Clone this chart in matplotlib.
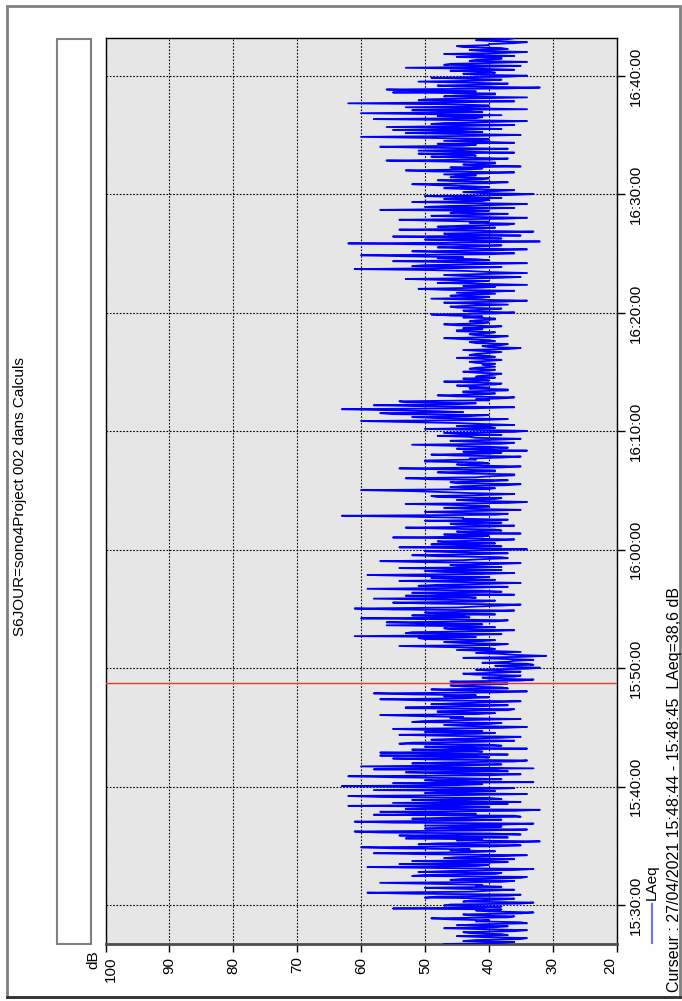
import numpy as np
import matplotlib
matplotlib.use('Agg')
import matplotlib.pyplot as plt
from matplotlib.patches import Rectangle
from matplotlib.lines import Line2D
from matplotlib.transforms import ScaledTranslation

plt.rcParams['font.family'] = ['Liberation Sans', 'DejaVu Sans']

# LAeq (dB), one row per minute, readings 5 s apart, starting 15:26:42
laeq_rows = [
    [47, 38, 36, 44, 42, 35, 34, 41, 45, 37, 38, 43],
    [44, 36, 34, 41, 47, 39, 37, 45, 41, 34, 35, 42],
    [40, 46, 49, 37, 36, 43, 44, 35, 33, 40, 42, 38],
    [55, 41, 38, 47, 46, 35, 33, 44, 43, 38, 36, 50],
    [48, 37, 35, 52, 59, 43, 40, 36, 45, 50, 38, 42],
    [41, 49, 57, 38, 36, 46, 44, 35, 34, 52, 50, 39],
    [38, 51, 46, 36, 33, 48, 59, 42, 40, 54, 44, 37],
    [52, 40, 36, 47, 45, 38, 34, 50, 58, 43, 39, 46],
    [43, 55, 60, 39, 35, 51, 48, 36, 32, 45, 41, 53],
    [37, 49, 54, 35, 40, 57, 61, 42, 34, 50, 45, 38],
    [50, 38, 33, 55, 61, 44, 38, 52, 46, 35, 36, 58],
    [42, 50, 57, 36, 32, 53, 48, 40, 62, 45, 37, 55],
    [35, 46, 52, 38, 40, 57, 62, 43, 34, 50, 47, 39],
    [58, 41, 36, 52, 63, 45, 41, 55, 33, 48, 50, 38],
    [44, 55, 62, 40, 35, 48, 53, 37, 39, 58, 33, 46],
    [60, 44, 38, 52, 47, 36, 34, 49, 55, 40, 42, 57],
    [37, 48, 57, 41, 43, 52, 34, 45, 50, 38, 40, 54],
    [52, 41, 36, 49, 45, 38, 35, 47, 54, 42, 39, 50],
    [41, 50, 55, 38, 34, 44, 47, 40, 38, 52, 50, 43],
    [35, 46, 44, 51, 57, 42, 39, 48, 48, 37, 36, 53],
    [53, 41, 37, 49, 45, 39, 35, 51, 57, 44, 40, 47],
    [42, 52, 58, 39, 34, 45, 49, 37, 38, 44, 46, 40],
    [37, 43, 46, 35, 33, 40, 41, 36, 35, 42, 44, 38],
    [35, 40, 42, 34, 32, 37, 39, 33, 34, 41, 37, 36],
    [33, 38, 44, 35, 31, 36, 38, 42, 35, 40, 45, 39],
    [40, 47, 54, 39, 37, 44, 47, 41, 39, 50, 51, 42],
    [61, 44, 38, 53, 52, 40, 36, 46, 47, 39, 43, 56],
    [41, 50, 56, 39, 37, 47, 60, 43, 44, 52, 39, 48],
    [50, 40, 36, 55, 61, 45, 42, 38, 35, 49, 55, 41],
    [39, 48, 58, 42, 44, 53, 36, 47, 52, 38, 41, 50],
    [59, 43, 37, 51, 48, 40, 35, 46, 54, 39, 43, 49],
    [40, 52, 59, 41, 36, 47, 50, 38, 45, 54, 38, 44],
    [46, 39, 35, 50, 57, 44, 41, 37, 38, 48, 52, 42],
    [37, 45, 50, 40, 34, 43, 54, 38, 42, 49, 39, 46],
    [48, 39, 36, 44, 55, 41, 40, 47, 35, 43, 45, 38],
    [39, 47, 53, 40, 36, 45, 46, 38, 42, 50, 37, 44],
    [44, 52, 63, 39, 37, 46, 50, 41, 35, 43, 47, 40],
    [40, 46, 53, 37, 34, 42, 45, 39, 38, 48, 49, 41],
    [36, 43, 47, 52, 60, 40, 39, 46, 44, 37, 35, 45],
    [46, 40, 37, 49, 53, 42, 40, 36, 36, 45, 48, 39],
    [39, 47, 54, 38, 35, 43, 45, 40, 41, 50, 50, 42],
    [43, 38, 35, 45, 49, 40, 38, 44, 34, 41, 45, 37],
    [40, 46, 52, 38, 36, 43, 46, 39, 35, 42, 43, 48],
    [38, 44, 47, 36, 34, 42, 50, 39, 40, 45, 36, 41],
    [45, 53, 60, 41, 37, 48, 52, 43, 40, 55, 57, 44],
    [48, 56, 63, 42, 36, 50, 58, 45, 42, 53, 54, 40],
    [42, 38, 36, 45, 48, 41, 39, 44, 44, 37, 37, 43],
    [40, 43, 45, 39, 38, 42, 47, 40, 41, 44, 39, 42],
    [41, 39, 38, 42, 44, 40, 39, 43, 42, 39, 40, 41],
    [39, 42, 43, 40, 38, 41, 45, 39, 40, 43, 42, 40],
    [38, 41, 44, 37, 35, 40, 41, 38, 37, 42, 43, 39],
    [40, 44, 47, 39, 37, 42, 43, 40, 39, 45, 45, 41],
    [44, 40, 38, 45, 47, 41, 40, 43, 42, 39, 39, 44],
    [41, 46, 49, 39, 36, 43, 44, 40, 38, 45, 46, 42],
    [37, 43, 47, 38, 34, 42, 49, 41, 40, 46, 44, 39],
    [45, 40, 36, 47, 51, 42, 39, 44, 34, 41, 48, 43],
    [40, 47, 53, 39, 35, 44, 47, 41, 34, 40, 43, 49],
    [61, 45, 38, 52, 50, 41, 34, 46, 55, 40, 42, 48],
    [44, 53, 60, 40, 36, 47, 52, 39, 34, 44, 48, 42],
    [38, 49, 62, 41, 32, 45, 50, 38, 43, 55, 35, 46],
    [47, 39, 33, 45, 54, 41, 39, 48, 44, 37, 36, 43],
    [40, 48, 54, 38, 34, 44, 49, 41, 37, 46, 45, 40],
    [57, 43, 36, 50, 46, 39, 34, 44, 52, 41, 40, 47],
    [38, 45, 50, 37, 33, 41, 44, 39, 36, 43, 47, 40],
    [43, 48, 52, 40, 37, 45, 48, 41, 40, 46, 45, 42],
    [47, 41, 36, 49, 53, 43, 41, 46, 35, 42, 44, 39],
    [39, 47, 56, 40, 37, 45, 49, 42, 43, 51, 36, 44],
    [51, 43, 37, 50, 57, 44, 42, 48, 36, 41, 47, 40],
    [40, 50, 60, 42, 35, 46, 53, 41, 45, 55, 38, 44],
    [56, 44, 36, 49, 47, 40, 34, 45, 58, 42, 41, 48],
    [38, 49, 60, 41, 44, 52, 34, 43, 53, 40, 40, 46],
    [62, 45, 36, 51, 50, 42, 34, 47, 45, 39, 39, 55],
    [42, 50, 56, 38, 32, 45, 48, 40, 37, 44, 51, 41],
    [38, 44, 49, 37, 34, 42, 44, 39, 40, 46, 36, 41],
    [53, 41, 35, 47, 46, 39, 34, 43, 42, 38, 38, 45],
    [36, 42, 47, 38, 34, 41, 43, 37, 38, 44, 45, 40],
    [40, 36, 34, 39, 42, 37, 36, 40, 39, 35, 35, 38],
]
t_start = -198  # seconds from 15:30:00
t_end = 4393    # 16:43:13
step = 5

db_ticks = [100, 90, 80, 70, 60, 50, 40, 30, 20]
time_ticks = [0, 600, 1200, 1800, 2400, 3000, 3600, 4200]
time_labels = ['15:30:00', '15:40:00', '15:50:00', '16:00:00',
               '16:10:00', '16:20:00', '16:30:00', '16:40:00']
cursor_t = 1124  # 15:48:44
title = 'S6JOUR=sono4Project 002 dans Calculs'
cursor_text = 'Curseur : 27/04/2021 15:48:44 - 15:48:45  LAeq=38,6 dB'

laeq = np.array(laeq_rows, dtype=float).ravel()
t = t_start + step * np.arange(laeq.size)

W, H = 682, 1001
fig = plt.figure(figsize=(W / 100, H / 100), dpi=100)
ax = fig.add_axes([105.5 / W, 57 / H, 511 / W, 906 / H])
ax.set_facecolor('#e6e6e6')

ax.plot(laeq, t, color='#0000ff', lw=1.3, zorder=3)
ax.axhline(cursor_t, color='#e8382e', lw=1.0, zorder=4)

ax.set_xlim(100, 20)
ax.set_ylim(t_start, t_end)
ax.set_xticks(db_ticks)
ax.set_xticklabels([str(v) for v in db_ticks], rotation=90)
ax.yaxis.tick_right()
ax.set_yticks(time_ticks)
ax.set_yticklabels(time_labels, rotation=90, va='center')
ax.tick_params(axis='both', length=6, width=1, labelsize=11, color='black', pad=3)
ax.grid(True, color='black', linestyle=(0, (1.5, 1.5)), linewidth=0.8, zorder=1)
ax.set_axisbelow(True)

# end labels sit inside the axis span
xl = ax.get_xticklabels()
xl[0].set_transform(xl[0].get_transform() + ScaledTranslation(5 / 100, 0, fig.dpi_scale_trans))
xl[-1].set_transform(xl[-1].get_transform() + ScaledTranslation(-6 / 100, 0, fig.dpi_scale_trans))

for s in ['top', 'left', 'right']:
    ax.spines[s].set_color('black')
    ax.spines[s].set_linewidth(1.0)
ax.spines['bottom'].set_color('#4d4d4d')
ax.spines['bottom'].set_linewidth(2.0)

# outer frame and left panel
fig.patches.append(Rectangle((7 / W, 4 / H), 673 / W, 991 / H, transform=fig.transFigure,
                             fill=False, ec='#808080', lw=2))
fig.lines.append(Line2D([7 / W, 680 / W], [4 / H, 4 / H], transform=fig.transFigure,
                        color='#333333', lw=2))
fig.patches.append(Rectangle((57 / W, 57 / H), 34 / W, 905 / H, transform=fig.transFigure,
                             fc='white', ec='#808080', lw=1.5))

fig.text(20 / W, 1 - 497 / H, title, rotation=90, ha='center', va='center', fontsize=11)
fig.text(93 / W, 1 - 950 / H, 'dB', rotation=90, ha='center', va='top', fontsize=11)

# legend and cursor info
fig.lines.append(Line2D([652 / W, 652 / W], [1 - 943 / H, 1 - 904 / H], transform=fig.transFigure,
                        color='#7070ff', lw=1.5))
fig.text(652 / W, 1 - 900 / H, 'LAeq', rotation=90, ha='center', va='bottom', fontsize=11)
fig.text(674 / W, 1 - 992 / H, cursor_text, rotation=90, ha='center', va='bottom', fontsize=11.5)

fig.savefig('out.png', dpi=100)
